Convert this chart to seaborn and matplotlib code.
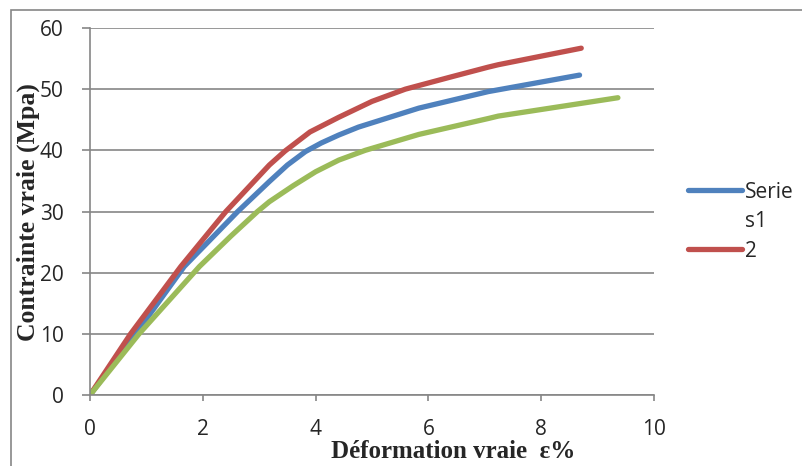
import matplotlib
matplotlib.use("Agg")
import matplotlib.pyplot as plt
from matplotlib.lines import Line2D
from matplotlib.patches import Rectangle
import pandas as pd
import seaborn as sns

sns.set_style(style='white')

# values
strain_s1 = [0, 0.81, 1.67, 2.62, 3.18, 3.5, 3.82, 4.1, 4.41, 4.76, 5.83, 7.06, 7.24, 8.68]
stress_s1 = [0, 10, 21, 30, 34.9, 37.6, 39.8, 41.2, 42.5, 43.8, 46.9, 49.6, 49.9, 52.3]

strain_s2 = [0, 0.72, 1.61, 2.41, 3.18, 3.46, 3.9, 4.41, 5.0, 5.59, 6.4, 7.06, 7.24, 8.71]
stress_s2 = [0, 10, 21, 30, 37.6, 39.9, 43.0, 45.4, 48.0, 50, 52.0, 53.6, 54.0, 56.7]

strain_s3 = [0, 0.87, 1.94, 2.5, 2.97, 3.18, 3.6, 4.0, 4.41, 4.88, 5.83, 7.06, 7.24, 9.36]
stress_s3 = [0, 10, 21, 26.0, 30, 31.6, 34.2, 36.5, 38.4, 40, 42.6, 45.2, 45.6, 48.6]

series_names = ["s1", "s2", "s3"]
legend_labels = ["Serie\ns1", "2"]
colors = ["#4F81BD", "#C0504D", "#9BBB59"]

x_ticks = [0, 2, 4, 6, 8, 10]
y_ticks = [0, 10, 20, 30, 40, 50, 60]

df = pd.concat([
    pd.DataFrame({"strain": strain_s1, "stress": stress_s1, "serie": "s1"}),
    pd.DataFrame({"strain": strain_s2, "stress": stress_s2, "serie": "s2"}),
    pd.DataFrame({"strain": strain_s3, "stress": stress_s3, "serie": "s3"}),
])

grey = "#868686"
tick_font = "Open Sans"
label_font = "Liberation Serif"

fig = plt.figure(figsize=(8.03, 4.66), dpi=100)
ax = fig.add_axes([90 / 803, 1 - 395 / 466, 564 / 803, 367 / 466])

# outer chart border (partly cut off on the right and bottom)
fig.patches.append(Rectangle((11 / 803, -0.1), 1.2, 1 - 10 / 466 + 0.1,
                             transform=fig.transFigure, fill=False,
                             edgecolor=grey, lw=1.2))

sns.lineplot(data=df, x="strain", y="stress", hue="serie", hue_order=series_names,
             palette=colors, sort=False, estimator=None, lw=3.8,
             solid_capstyle="round", solid_joinstyle="round", legend=False, ax=ax)

ax.set_xlim(0, 10)
ax.set_ylim(0, 60)
ax.set_xticks(x_ticks)
ax.set_yticks(y_ticks)
ax.yaxis.grid(True, color=grey, lw=1.2)
ax.set_axisbelow(True)
for s in ["top", "right"]:
    ax.spines[s].set_visible(False)
for s in ["left", "bottom"]:
    ax.spines[s].set_color(grey)
    ax.spines[s].set_linewidth(1.2)
ax.tick_params(axis="y", length=6, width=1.2, color=grey, pad=13, left=True)
ax.tick_params(axis="x", length=4.3, width=1.2, color=grey, pad=13, bottom=True)
for lab in ax.get_xticklabels() + ax.get_yticklabels():
    lab.set_fontfamily(tick_font)
    lab.set_fontsize(15)
ax.set_xlabel("")
ax.set_ylabel("")

fig.text(453 / 803, 1 - 451 / 466, "Déformation vraie  ε%", ha="center", va="center",
         fontsize=18, fontweight="bold", family=label_font)
fig.text(28 / 803, 1 - 212 / 466, "Contrainte vraie (Mpa)", ha="center", va="center",
         rotation=90, fontsize=18.5, fontweight="bold", family=label_font)

# legend drawn like the Excel one: line aligned on first text line
leg_y = [190, 249]
for lab, col, yy in zip(legend_labels, colors, leg_y):
    yf = 1 - yy / 466
    fig.add_artist(Line2D([688 / 803, 742 / 803], [yf, yf], transform=fig.transFigure,
                          color=col, lw=3.8, solid_capstyle="round"))
    fig.text(745 / 803, yf + 8 / 466, lab, ha="left", va="top", fontsize=15,
             family=tick_font, linespacing=1.5)

fig.savefig("out.png", dpi=100)
